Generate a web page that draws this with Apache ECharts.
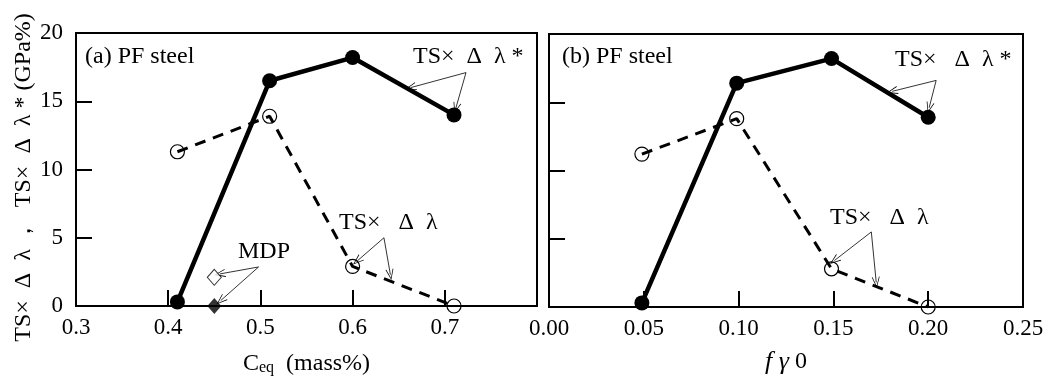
<!DOCTYPE html>
<html>
<head>
<meta charset="utf-8">
<script src="https://cdn.jsdelivr.net/npm/echarts@6/dist/echarts.min.js"></script>
<style>
  html, body { margin: 0; padding: 0; background: #fff; }
  #main { width: 1054px; height: 381px; }
</style>
</head>
<body>
<div id="main"></div>
<script>
// (a) Ceq
var ceq = [0.41, 0.51, 0.60, 0.71];
var ceqStar = [0.3, 16.5, 18.2, 14.0];   // TS x dl*
var ceqLam = [11.3, 13.9, 2.9, 0.0];     // TS x dl
var mdpCeq = [0.45, 0.45];
var mdpVal = [2.1, 0.0];
// (b) f gamma 0
var fg0 = [0.049, 0.099, 0.149, 0.20];
var fgStar = [0.3, 16.4, 18.2, 13.9];
var fgLam = [11.2, 13.8, 2.8, 0.0];

function pairs(xs, ys) {
    return xs.map(function (x, i) { return [x, ys[i]]; });
}

var FONT = 'Liberation Serif';
var LBL = '24px "Liberation Serif"';
var chevron = 'path://M5,0 L10,10 L9,10 L5,1.8 L1,10 L0,10 Z';

function arrows(from, tos) {
    return {
        silent: true,
        symbol: ['none', chevron],
        symbolSize: [8, 11],
        lineStyle: { color: '#000', width: 0.8, type: 'solid' },
        label: { show: false },
        emphasis: { disabled: true },
        animation: false,
        data: tos.map(function (t) { return [{ coord: from }, { coord: t }]; })
    };
}

var myChart = echarts.init(document.getElementById('main'));

var axisCommon = {
    axisLine: { show: true, onZero: false, lineStyle: { color: '#000', width: 2 } },
    axisTick: { show: true, inside: true, length: 16, lineStyle: { color: '#000', width: 2 } },
    splitLine: { show: false }
};

myChart.setOption({
    backgroundColor: '#fff',
    animation: false,
    textStyle: { fontFamily: FONT, color: '#000' },
    grid: [
        { left: 76, top: 33, width: 461, height: 273, show: true, borderColor: '#000', borderWidth: 2, containLabel: false, outerBoundsMode: 'none' },
        { left: 549, top: 34, width: 474, height: 273, show: true, borderColor: '#000', borderWidth: 2, containLabel: false, outerBoundsMode: 'none' }
    ],
    xAxis: [
        Object.assign({}, axisCommon, {
            gridIndex: 0, type: 'value', min: 0.3, max: 0.8, interval: 0.1,
            axisLabel: {
                fontFamily: FONT, fontSize: 23, color: '#000', margin: 10,
                formatter: function (v) { return v > 0.75 ? '' : v.toFixed(1); }
            },
            name: '{c|C}{s|eq}{c|  (mass%)}',
            nameLocation: 'middle', nameGap: 44,
            nameTextStyle: {
                rich: {
                    c: { fontFamily: FONT, fontSize: 24, color: '#000', verticalAlign: 'bottom', lineHeight: 26 },
                    s: { fontFamily: FONT, fontSize: 16, color: '#000', verticalAlign: 'bottom', lineHeight: 15 }
                }
            }
        }),
        Object.assign({}, axisCommon, {
            gridIndex: 1, type: 'value', min: 0, max: 0.25, interval: 0.05,
            axisLabel: {
                fontFamily: FONT, fontSize: 23, color: '#000', margin: 10,
                formatter: function (v) { return v.toFixed(2); }
            },
            name: '{i|f γ}{n| 0}',
            nameLocation: 'middle', nameGap: 42,
            nameTextStyle: {
                rich: {
                    i: { fontFamily: FONT, fontSize: 26, fontStyle: 'italic', color: '#000' },
                    n: { fontFamily: FONT, fontSize: 24, color: '#000' }
                }
            }
        })
    ],
    yAxis: [
        Object.assign({}, axisCommon, {
            gridIndex: 0, type: 'value', min: 0, max: 20, interval: 5,
            axisLabel: { fontFamily: FONT, fontSize: 23, color: '#000', margin: 13 },
            name: 'TS×\u2002Δ\u2002λ ，\u2002TS×\u2002Δ\u2002λ * (GPa%)',
            nameLocation: 'middle', nameGap: 40,
            nameTextStyle: { fontFamily: FONT, fontSize: 24, color: '#000', padding: [0, 16, 0, 0] }
        }),
        Object.assign({}, axisCommon, {
            gridIndex: 1, type: 'value', min: 0, max: 20, interval: 5,
            axisLabel: { show: false }
        })
    ],
    graphic: [
        { type: 'text', left: 85, top: 45, style: { text: '(a) PF steel', font: LBL, fill: '#000' } },
        { type: 'text', left: 413, top: 45, style: { text: 'TS×\u2002Δ\u2002λ *', font: LBL, fill: '#000' } },
        { type: 'text', left: 339, top: 211, style: { text: 'TS× \u2002Δ\u2002λ', font: LBL, fill: '#000' } },
        { type: 'text', left: 238, top: 240, style: { text: 'MDP', font: LBL, fill: '#000' } },
        { type: 'text', left: 562, top: 45, style: { text: '(b) PF steel', font: LBL, fill: '#000' } },
        { type: 'text', left: 895, top: 48, style: { text: 'TS× \u2002Δ\u2002λ *', font: LBL, fill: '#000' } },
        { type: 'text', left: 830, top: 206, style: { text: 'TS× \u2002Δ\u2002λ', font: LBL, fill: '#000' } }
    ],
    series: [
        {
            name: 'TS×Δλ (a)', type: 'line', xAxisIndex: 0, yAxisIndex: 0,
            data: pairs(ceq, ceqLam),
            lineStyle: { color: '#000', width: 3, type: [11, 8] },
            symbol: 'circle', symbolSize: 14,
            itemStyle: { color: 'rgba(255,255,255,0)', borderColor: '#000', borderWidth: 1.2 },
            markLine: arrows([0.634, 5.0], [[0.605, 3.3], [0.641, 2.3]]),
            z: 3
        },
        {
            name: 'TS×Δλ* (a)', type: 'line', xAxisIndex: 0, yAxisIndex: 0,
            data: pairs(ceq, ceqStar),
            lineStyle: { color: '#000', width: 4.5 },
            symbol: 'circle', symbolSize: 15,
            itemStyle: { color: '#000' },
            markLine: arrows([0.723, 17.1], [[0.663, 16.0], [0.712, 14.5]]),
            z: 4
        },
        {
            name: 'MDP', type: 'scatter', xAxisIndex: 0, yAxisIndex: 0,
            data: [[mdpCeq[0], mdpVal[0]]],
            symbol: 'diamond', symbolSize: [14, 16],
            itemStyle: { color: '#fff', borderColor: '#000', borderWidth: 1 },
            markLine: arrows([0.498, 2.86], [[0.456, 2.35], [0.457, 0.4]]),
            z: 5
        },
        {
            name: 'MDP filled', type: 'scatter', xAxisIndex: 0, yAxisIndex: 0,
            data: [[mdpCeq[1], mdpVal[1]]],
            symbol: 'diamond', symbolSize: [14, 16],
            itemStyle: { color: '#000' },
            z: 5
        },
        {
            name: 'TS×Δλ (b)', type: 'line', xAxisIndex: 1, yAxisIndex: 1,
            data: pairs(fg0, fgLam),
            lineStyle: { color: '#000', width: 3, type: [11, 8] },
            symbol: 'circle', symbolSize: 14,
            itemStyle: { color: 'rgba(255,255,255,0)', borderColor: '#000', borderWidth: 1.2 },
            markLine: arrows([0.170, 5.5], [[0.1505, 3.4], [0.1726, 1.8]]),
            z: 3
        },
        {
            name: 'TS×Δλ* (b)', type: 'line', xAxisIndex: 1, yAxisIndex: 1,
            data: pairs(fg0, fgStar),
            lineStyle: { color: '#000', width: 4.5 },
            symbol: 'circle', symbolSize: 15,
            itemStyle: { color: '#000' },
            markLine: arrows([0.2042, 16.6], [[0.181, 15.8], [0.2005, 14.6]]),
            z: 4
        }
    ]
});
</script>
</body>
</html>
